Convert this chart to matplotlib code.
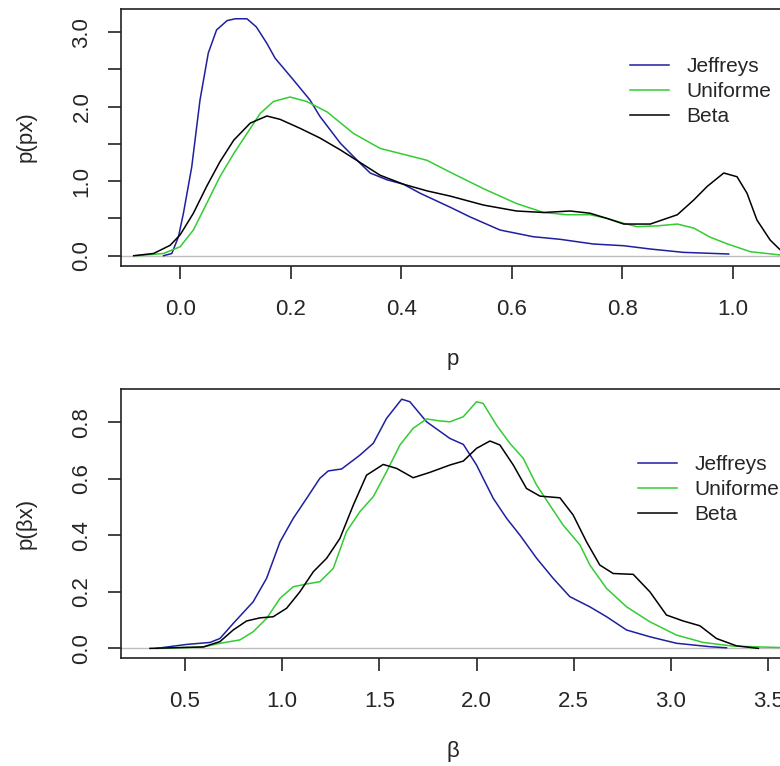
import matplotlib
matplotlib.use("Agg")
import matplotlib.pyplot as plt

plt.rcParams['font.family'] = ['Liberation Sans', 'DejaVu Sans']

# ---------------- data: top panel (p) ----------------
jeff_p_x = [-0.03, -0.015, -0.003, 0.006, 0.021, 0.036, 0.051, 0.066, 0.085, 0.10, 0.121, 0.138,
            0.157, 0.172, 0.205, 0.235, 0.253, 0.29, 0.326, 0.344, 0.374, 0.404, 0.434, 0.489,
            0.525, 0.579, 0.639, 0.688, 0.748, 0.803, 0.851, 0.911, 0.993]
jeff_p_y = [0.0, 0.03, 0.255, 0.57, 1.19, 2.09, 2.72, 3.03, 3.155, 3.18, 3.18, 3.07,
            2.85, 2.65, 2.36, 2.09, 1.87, 1.51, 1.24, 1.11, 1.02, 0.96, 0.84, 0.65,
            0.52, 0.345, 0.255, 0.22, 0.157, 0.134, 0.09, 0.045, 0.023]

unif_p_x = [-0.078, -0.03, 0.0, 0.024, 0.048, 0.072, 0.097, 0.121, 0.145, 0.169, 0.199, 0.229,
            0.266, 0.314, 0.362, 0.41, 0.447, 0.489, 0.549, 0.609, 0.658, 0.70, 0.742, 0.773,
            0.803, 0.827, 0.863, 0.90, 0.93, 0.959, 0.99, 1.032, 1.086, 1.12]
unif_p_y = [0.0, 0.03, 0.12, 0.345, 0.70, 1.06, 1.37, 1.64, 1.91, 2.07, 2.13, 2.07,
            1.93, 1.64, 1.44, 1.35, 1.28, 1.12, 0.90, 0.70, 0.58, 0.55, 0.55, 0.50,
            0.435, 0.39, 0.40, 0.425, 0.37, 0.25, 0.16, 0.054, 0.01, 0.0]

beta_p_x = [-0.084, -0.048, -0.018, 0.0, 0.024, 0.048, 0.072, 0.097, 0.127, 0.157, 0.181, 0.217,
            0.253, 0.29, 0.326, 0.362, 0.404, 0.447, 0.489, 0.549, 0.609, 0.658, 0.706, 0.742,
            0.773, 0.803, 0.851, 0.90, 0.93, 0.954, 0.984, 1.008, 1.026, 1.044, 1.068, 1.086, 1.11]
beta_p_y = [0.0, 0.03, 0.14, 0.28, 0.57, 0.93, 1.26, 1.55, 1.78, 1.875, 1.83, 1.71,
            1.58, 1.42, 1.25, 1.08, 0.96, 0.87, 0.80, 0.68, 0.60, 0.58, 0.60, 0.57,
            0.50, 0.425, 0.425, 0.55, 0.75, 0.93, 1.11, 1.06, 0.84, 0.48, 0.21, 0.08, 0.0]

# ---------------- data: bottom panel (beta) ----------------
jeff_b_x = [0.354, 0.509, 0.629, 0.68, 0.748, 0.851, 0.92, 0.989, 1.057, 1.126, 1.194, 1.237,
            1.306, 1.40, 1.469, 1.537, 1.615, 1.657, 1.743, 1.863, 1.932, 2.0, 2.034, 2.086,
            2.155, 2.223, 2.309, 2.394, 2.48, 2.583, 2.669, 2.772, 2.892, 3.029, 3.20, 3.286]
jeff_b_y = [0.0, 0.014, 0.021, 0.035, 0.088, 0.165, 0.248, 0.377, 0.46, 0.531, 0.602, 0.628,
            0.635, 0.684, 0.726, 0.814, 0.882, 0.873, 0.802, 0.743, 0.722, 0.649, 0.602, 0.531,
            0.46, 0.401, 0.319, 0.248, 0.183, 0.147, 0.112, 0.065, 0.041, 0.018, 0.006, 0.002]

unif_b_x = [0.354, 0.594, 0.68, 0.783, 0.851, 0.92, 0.989, 1.057, 1.126, 1.194, 1.263, 1.331,
            1.40, 1.469, 1.537, 1.606, 1.674, 1.743, 1.812, 1.863, 1.932, 2.0, 2.034, 2.103,
            2.171, 2.24, 2.309, 2.377, 2.446, 2.532, 2.583, 2.669, 2.772, 2.892, 3.029, 3.166,
            3.32, 3.56, 3.70]
unif_b_y = [0.0, 0.005, 0.018, 0.03, 0.059, 0.106, 0.177, 0.218, 0.228, 0.236, 0.283, 0.413,
            0.484, 0.537, 0.625, 0.72, 0.779, 0.812, 0.805, 0.802, 0.82, 0.873, 0.867, 0.79,
            0.726, 0.673, 0.578, 0.507, 0.436, 0.366, 0.295, 0.212, 0.147, 0.094, 0.047, 0.021,
            0.008, 0.003, 0.0]

beta_b_x = [0.32, 0.594, 0.68, 0.748, 0.817, 0.886, 0.954, 1.023, 1.091, 1.16, 1.229, 1.297,
            1.366, 1.434, 1.52, 1.589, 1.674, 1.76, 1.863, 1.932, 2.0, 2.069, 2.12, 2.189,
            2.257, 2.326, 2.429, 2.497, 2.566, 2.634, 2.703, 2.806, 2.892, 2.977, 3.063, 3.149,
            3.234, 3.337, 3.45]
beta_b_y = [0.0, 0.005, 0.024, 0.065, 0.097, 0.108, 0.112, 0.142, 0.20, 0.271, 0.319, 0.389,
            0.507, 0.613, 0.651, 0.637, 0.604, 0.623, 0.649, 0.663, 0.708, 0.734, 0.72, 0.649,
            0.566, 0.539, 0.533, 0.472, 0.377, 0.295, 0.265, 0.262, 0.20, 0.118, 0.097, 0.08,
            0.035, 0.009, 0.0]

labels = ["Jeffreys", "Uniforme", "Beta"]
colors = ["#1f1fa0", "#33cc33", "#000000"]

top_xticks = [0.0, 0.2, 0.4, 0.6, 0.8, 1.0]
top_xticklabels = ["0.0", "0.2", "0.4", "0.6", "0.8", "1.0"]
top_yticks = [0.0, 0.5, 1.0, 1.5, 2.0, 2.5, 3.0]
top_yticklabels = ["0.0", "", "1.0", "", "2.0", "", "3.0"]

bot_xticks = [0.5, 1.0, 1.5, 2.0, 2.5, 3.0, 3.5]
bot_xticklabels = ["0.5", "1.0", "1.5", "2.0", "2.5", "3.0", "3.5"]
bot_yticks = [0.0, 0.2, 0.4, 0.6, 0.8]
bot_yticklabels = ["0.0", "0.2", "0.4", "0.6", "0.8"]

W, H = 780, 766
fig = plt.figure(figsize=(W / 100, H / 100), dpi=100)

FS = 16
TXT = "#262626"


def px_axes(left, top, right, bottom):
    return fig.add_axes([left / W, 1 - bottom / H, (right - left) / W, (bottom - top) / H])


ax1 = px_axes(121, 9.3, 800, 265.7)
ax2 = px_axes(121, 389.3, 800, 657.7)


def style(ax, xt, xtl, yt, ytl, xlim, ylim):
    ax.axhline(0, color="#bebebe", lw=1.0, zorder=0)
    ax.set_xlim(*xlim)
    ax.set_ylim(*ylim)
    ax.set_xticks(xt)
    ax.set_xticklabels(xtl)
    ax.set_yticks(yt)
    ax.set_yticklabels(ytl)
    for s in ax.spines.values():
        s.set_linewidth(1.2)
        s.set_color("#222222")
    ax.tick_params(axis="both", direction="out", length=9.5, width=1.2, color="#222222",
                   labelsize=FS, labelcolor=TXT)
    ax.tick_params(axis="x", pad=14.5)
    ax.tick_params(axis="y", pad=11)
    for lab in ax.get_yticklabels():
        lab.set_rotation(90)
        lab.set_va("center")


style(ax1, top_xticks, top_xticklabels, top_yticks, top_yticklabels,
      (-0.107, 1.122), (-0.134, 3.307))
ax1.plot(jeff_p_x, jeff_p_y, color=colors[0], lw=1.1, label=labels[0])
ax1.plot(unif_p_x, unif_p_y, color=colors[1], lw=1.1, label=labels[1])
ax1.plot(beta_p_x, beta_p_y, color=colors[2], lw=1.1, label=labels[2])
ax1.set_xlabel("p", fontsize=FS, color=TXT, va="center")
ax1.xaxis.set_label_coords(0.489, -0.364)
ax1.set_ylabel("p(px)", fontsize=FS, color=TXT, va="center")
ax1.yaxis.set_label_coords(-0.140, 0.502)

style(ax2, bot_xticks, bot_xticklabels, bot_yticks, bot_yticklabels,
      (0.171, 3.664), (-0.033, 0.917))
ax2.plot(jeff_b_x, jeff_b_y, color=colors[0], lw=1.1, label=labels[0])
ax2.plot(unif_b_x, unif_b_y, color=colors[1], lw=1.1, label=labels[1])
ax2.plot(beta_b_x, beta_b_y, color=colors[2], lw=1.1, label=labels[2])
ax2.set_xlabel("β", fontsize=FS, color=TXT, va="center")
ax2.xaxis.set_label_coords(0.489, -0.351)
ax2.set_ylabel("p(βx)", fontsize=FS, color=TXT, va="center")
ax2.yaxis.set_label_coords(-0.140, 0.50)


def legend_at(ax, x_px, y_px):
    lg = ax.legend(loc="upper left", bbox_to_anchor=(x_px / W, 1 - y_px / H),
                   bbox_transform=fig.transFigure, frameon=False, fontsize=15,
                   handlelength=1.85, handletextpad=0.85, labelspacing=0.3,
                   borderpad=0, borderaxespad=0)
    for t in lg.get_texts():
        t.set_color(TXT)
    return lg


legend_at(ax1, 630, 57)
legend_at(ax2, 638, 455)

fig.savefig("out.png", dpi=100)
